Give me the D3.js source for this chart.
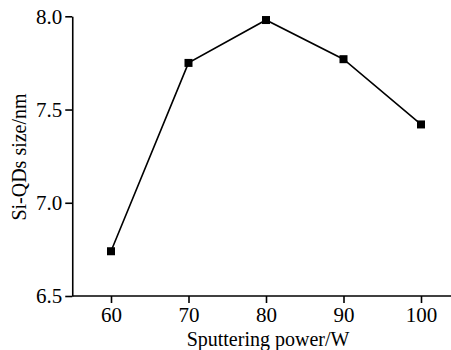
<!DOCTYPE html>
<html>
<head>
<meta charset="utf-8">
<script src="https://cdn.jsdelivr.net/npm/d3@7"></script>
<style>
  body { margin: 0; background: #fff; }
  svg { display: block; }
  .axis text { font-family: "Liberation Serif", "Times New Roman", serif; font-size: 21px; fill: #000; }
  .axis path, .axis line { stroke: #000; stroke-width: 1.6; }
  .title { font-family: "Liberation Serif", "Times New Roman", serif; font-size: 20px; fill: #000; }
</style>
</head>
<body>
<div class="chart"></div>
<script>
// sputtering power (W) vs Si-QDs size (nm)
var power = [60, 70, 80, 90, 100];
var size = [6.74, 7.75, 7.98, 7.77, 7.42];
var xTicks = [60, 70, 80, 90, 100];
var yTicks = [6.5, 7.0, 7.5, 8.0];

var width = 451, height = 350;

var svg = d3.select('.chart')
  .append('svg')
  .attr('width', width)
  .attr('height', height);

var x = d3.scaleLinear().domain([55, 105]).range([72.25, 459.75]);
var y = d3.scaleLinear().domain([6.5, 8.0]).range([296, 16.3]);

svg.append('g')
  .attr('class', 'axis')
  .attr('transform', 'translate(0,' + y(6.5) + ')')
  .call(d3.axisBottom(x).tickValues(xTicks).tickSize(7).tickSizeOuter(0).tickPadding(4))
  .select('.domain').attr('d', 'M' + x(55) + ',0H' + x(105));

svg.append('g')
  .attr('class', 'axis')
  .attr('transform', 'translate(' + x(55) + ',0)')
  .call(d3.axisLeft(y).tickValues(yTicks).tickSize(7).tickSizeOuter(0).tickPadding(3)
    .tickFormat(d3.format('.1f')));

var pts = power.map(function(p, i) { return [p, size[i]]; });

svg.append('path')
  .datum(pts)
  .attr('fill', 'none')
  .attr('stroke', '#000')
  .attr('stroke-width', 1.6)
  .attr('d', d3.line()
    .x(function(d) { return x(d[0]); })
    .y(function(d) { return y(d[1]); }));

svg.selectAll('rect.pt')
  .data(pts)
  .enter()
  .append('rect')
  .attr('class', 'pt')
  .attr('x', function(d) { return x(d[0]) - 4; })
  .attr('y', function(d) { return y(d[1]) - 4; })
  .attr('width', 8)
  .attr('height', 8)
  .attr('fill', '#000');

svg.append('text')
  .attr('class', 'title')
  .attr('text-anchor', 'middle')
  .attr('transform', 'translate(26,157) rotate(-90)')
  .text('Si-QDs size/nm');

svg.append('text')
  .attr('class', 'title')
  .attr('text-anchor', 'middle')
  .attr('x', 268)
  .attr('y', 345.5)
  .text('Sputtering power/W');
</script>
</body>
</html>
